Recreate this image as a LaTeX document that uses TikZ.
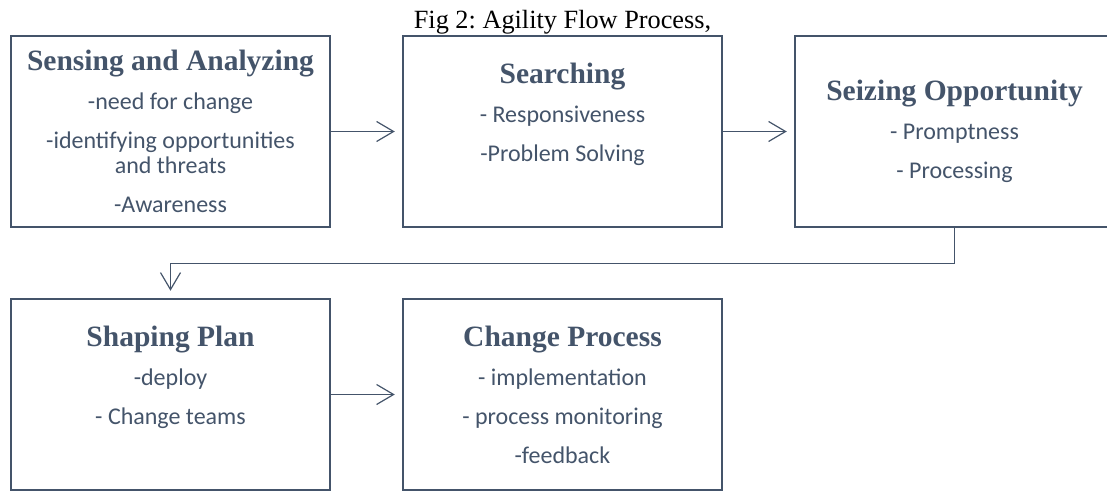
\documentclass[tikz,border=0pt]{standalone}
\usepackage{fontspec}
\setmainfont{Liberation Serif}
\newfontfamily\bodyfont{Carlito}
\usepackage{tikz}
\usetikzlibrary{positioning, arrows.meta}
\definecolor{slate}{HTML}{44546A}
\newcommand{\boxhead}[1]{{\rmfamily\bfseries\fontsize{29.5}{39}\selectfont #1}}

\begin{document}
\begin{tikzpicture}[x=1pt, y=-1pt,
        stage/.style={draw=slate, line width=2.5pt, text=slate, align=center,
            minimum width=319pt, minimum height=191pt, inner sep=0pt,
            font=\bodyfont\fontsize{24}{39}\selectfont},
        flow/.style={draw=slate, line width=1.2pt,
            -{Straight Barb[length=17pt,width=20pt]}, shorten >=7pt}]
        \useasboundingbox (0,0) rectangle (1107,492);
        \clip (0,0) rectangle (1107,492);

        % First row of stages
        \node (sensing) [stage] at (170.5,131.5) {\boxhead{Sensing and Analyzing}\\ -need for change\\
            -identifying opportunities\\[-14pt] and threats\\ -Awareness};
        \node (searching) [stage] at (562.5,131.5) {\boxhead{Searching}\\ - Responsiveness\\
            -Problem Solving\\ \mbox{}};
        \node (seizing) [stage] at (954.5,131.5) {\boxhead{Seizing Opportunity}\\ - Promptness\\
            - Processing};
        \node (title) [above=0.5pt of searching, inner sep=0pt,
            font=\frenchspacing\fontsize{26.3}{30}\selectfont] {Fig 2: Agility Flow Process,};

        % Second row of stages
        \node (shaping) [stage] at (170.5,394.5) {\boxhead{Shaping Plan}\\ -deploy\\
            - Change teams\\ \mbox{}};
        \node (change) [stage] at (562.5,394.5) {\boxhead{Change Process}\\ - implementation\\
            - process monitoring\\ -feedback};

        % Flow between the stages
        \draw[flow] (sensing) -- (searching);
        \draw[flow] (searching) -- (seizing);
        \draw[flow] (seizing.south) -- ++(0,35) -| (shaping.north);
        \draw[flow] (shaping) -- (change);
    \end{tikzpicture}
\end{document}
